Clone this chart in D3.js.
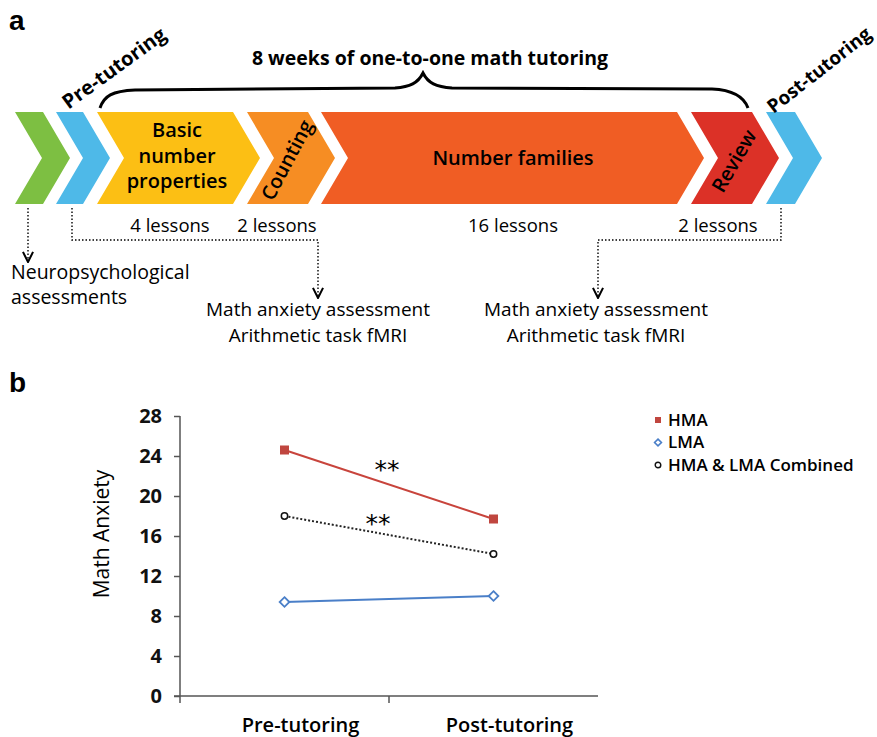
<!DOCTYPE html>
<html>
<head>
<meta charset="utf-8">
<script src="https://cdn.jsdelivr.net/npm/d3@7"></script>
<style>
body { margin: 0; background: #fff; }
svg { font-family: "Open Sans", sans-serif; }
</style>
</head>
<body>
<svg width="877" height="737"></svg>
<script>
// ---- panel a data ----
var phases = ['', '', 'Basic number properties', 'Counting', 'Number families', 'Review', ''];
var phaseColors = ['#7dbf42', '#4eb9e8', '#fcbf14', '#f68d23', '#f05d24', '#dc3127', '#4eb9e8'];
var lessons = ['', '', '4 lessons', '2 lessons', '16 lessons', '2 lessons', ''];
var spanTitle = '8 weeks of one-to-one math tutoring';

// ---- panel b data ----
var sessions = ['Pre-tutoring', 'Post-tutoring'];
var hma = [24.6, 17.7];
var lma = [9.4, 10.0];
var combined = [18.0, 14.2];
var yTicks = [0, 4, 8, 12, 16, 20, 24, 28];
var seriesNames = ['HMA', 'LMA', 'HMA & LMA Combined'];

var svg = d3.select('svg');

// ================= panel a =================
// layout of the chevron band (top edge start/end of each piece)
var chevX = [[15, 43], [56, 83], [97, 233], [247, 308], [321, 677], [691, 752], [766, 795]];
var bandTop = 112, bandBot = 204, bandMid = (bandTop + bandBot) / 2, depth = 27;

svg.append('text').attr('x', 9).attr('y', 30)
	.attr('font-size', 28).attr('font-weight', 700)
	.attr('font-family', 'Liberation Sans, Arial, sans-serif').text('a');

var chev = svg.append('g');
chev.selectAll('path')
	.data(phases)
	.enter()
	.append('path')
		.attr('d', function(d, i){
			var a = chevX[i][0], b = chevX[i][1];
			return 'M' + a + ',' + bandTop + 'L' + b + ',' + bandTop + 'L' + (b + depth) + ',' + bandMid +
				'L' + b + ',' + bandBot + 'L' + a + ',' + bandBot + 'L' + (a + depth) + ',' + bandMid + 'Z';
		})
		.attr('fill', function(d, i){ return phaseColors[i]; });

// labels inside chevrons
var basicLines = phases[2].split(' ');
chev.append('text')
	.attr('x', 177).attr('y', 137)
	.attr('text-anchor', 'middle').attr('font-size', 20).attr('font-weight', 600)
	.selectAll('tspan').data(basicLines).enter().append('tspan')
		.attr('x', 177).attr('dy', function(d, i){ return i ? 25.5 : 0; })
		.text(function(d){ return d; });

chev.append('text')
	.attr('transform', 'translate(287,160) rotate(-62)')
	.attr('text-anchor', 'middle').attr('dy', '0.35em')
	.attr('font-size', 20).attr('font-weight', 600).text(phases[3]);

chev.append('text')
	.attr('x', 513).attr('y', 158).attr('dy', '0.35em')
	.attr('text-anchor', 'middle').attr('font-size', 20).attr('font-weight', 600).text(phases[4]);

chev.append('text')
	.attr('transform', 'translate(734,161) rotate(-60)')
	.attr('text-anchor', 'middle').attr('dy', '0.35em')
	.attr('font-size', 20).attr('font-weight', 600).text(phases[5]);

// rotated stage labels
svg.append('text')
	.attr('transform', 'translate(114,68) rotate(-36)')
	.attr('text-anchor', 'middle').attr('dy', '0.35em')
	.attr('font-size', 20).attr('font-weight', 700).text('Pre-tutoring');
svg.append('text')
	.attr('transform', 'translate(819,70) rotate(-38)')
	.attr('text-anchor', 'middle').attr('dy', '0.35em')
	.attr('font-size', 19).attr('font-weight', 700).text('Post-tutoring');

// brace and its title
svg.append('path')
	.attr('d', 'M100,108 C104,96 112,91 135,90 L395,88 C410,87 418,83 423,73 C428,83 436,87 452,88 L712,89 C734,90 744,97 748,108')
	.attr('fill', 'none').attr('stroke', '#000').attr('stroke-width', 3);
svg.append('text')
	.attr('x', 430).attr('y', 65).attr('text-anchor', 'middle')
	.attr('font-size', 19.5).attr('font-weight', 700).text(spanTitle);

// lesson counts
var lessonX = [0, 0, 170, 277, 513, 718, 0];
svg.append('g').selectAll('text')
	.data(lessons)
	.enter()
	.append('text')
		.attr('x', function(d, i){ return lessonX[i]; })
		.attr('y', 232)
		.attr('text-anchor', 'middle').attr('font-size', 18.5)
		.text(function(d){ return d; });

// dotted arrows
var defs = svg.append('defs');
defs.append('marker').attr('id', 'arr')
	.attr('viewBox', '0 0 10 10').attr('refX', 9).attr('refY', 5)
	.attr('markerWidth', 9).attr('markerHeight', 9).attr('orient', 'auto')
	.append('path').attr('d', 'M1,1 L9,5 L1,9').attr('fill', 'none').attr('stroke', '#000').attr('stroke-width', 1.6);

var flows = [
	[[28, 208], [28, 262]],
	[[72, 208], [72, 240], [318, 240], [318, 298]],
	[[781, 208], [781, 240], [598, 240], [598, 298]]
];
svg.append('g').selectAll('path')
	.data(flows)
	.enter()
	.append('path')
		.attr('d', d3.line())
		.attr('fill', 'none').attr('stroke', '#000').attr('stroke-width', 1.4)
		.attr('stroke-dasharray', '1.5,2')
		.attr('marker-end', 'url(#arr)');

// assessment notes
var neuro = ['Neuropsychological', 'assessments'];
var mathAssess = ['Math anxiety assessment', 'Arithmetic task fMRI'];
svg.append('text').attr('font-size', 19.5)
	.selectAll('tspan').data(neuro).enter().append('tspan')
		.attr('x', 11).attr('y', function(d, i){ return 279 + i * 25; })
		.text(function(d){ return d; });
[318, 596].forEach(function(cx){
	svg.append('text').attr('font-size', 19).attr('text-anchor', 'middle')
		.selectAll('tspan').data(mathAssess).enter().append('tspan')
			.attr('x', cx).attr('y', function(d, i){ return 316 + i * 25.5; })
			.text(function(d){ return d; });
});

// ================= panel b =================
svg.append('text').attr('x', 9).attr('y', 392)
	.attr('font-size', 28).attr('font-weight', 700)
	.attr('font-family', 'Liberation Sans, Arial, sans-serif').text('b');

var x = d3.scaleBand().domain(sessions).range([180, 598]);
var y = d3.scaleLinear().domain([0, 28]).range([696, 416]);

var yAxis = svg.append('g').attr('transform', 'translate(180,0)')
	.call(d3.axisLeft(y).tickValues(yTicks).tickSize(6).tickPadding(12));
yAxis.select('.domain').attr('d', 'M0,' + y(28) + 'V' + (y(0) + 7));
yAxis.selectAll('line').attr('stroke', '#555').attr('stroke-width', 1.5);
yAxis.select('.domain').attr('stroke', '#555').attr('stroke-width', 1.5);
yAxis.selectAll('text').attr('font-size', 20).attr('font-weight', 700)
	.attr('font-family', 'Open Sans, sans-serif').attr('fill', '#111');

var xAxis = svg.append('g').attr('transform', 'translate(0,' + y(0) + ')');
xAxis.append('line').attr('x1', 174).attr('x2', x.range()[1])
	.attr('stroke', '#555').attr('stroke-width', 1.5);
xAxis.append('line').attr('x1', x(sessions[1])).attr('x2', x(sessions[1]))
	.attr('y1', 0).attr('y2', 7).attr('stroke', '#555').attr('stroke-width', 1.5);
xAxis.selectAll('text.cat')
	.data(sessions)
	.enter()
	.append('text')
		.attr('class', 'cat')
		.attr('x', function(d){ return x(d) + x.bandwidth() / 2 + 16; })
		.attr('y', 36)
		.attr('text-anchor', 'middle').attr('font-size', 20).attr('font-weight', 600)
		.text(function(d){ return d; });

svg.append('text')
	.attr('transform', 'translate(109,534) rotate(-90)')
	.attr('text-anchor', 'middle').attr('font-size', 21).attr('font-weight', 500).text('Math Anxiety');

var cx = function(d, i){ return x(sessions[i]) + x.bandwidth() / 2; };
var line = d3.line().x(cx).y(function(d){ return y(d); });

svg.append('path').attr('d', line(hma)).attr('fill', 'none')
	.attr('stroke', '#c8443c').attr('stroke-width', 2);
svg.append('path').attr('d', line(lma)).attr('fill', 'none')
	.attr('stroke', '#4a7fc8').attr('stroke-width', 2);
svg.append('path').attr('d', line(combined)).attr('fill', 'none')
	.attr('stroke', '#222').attr('stroke-width', 2).attr('stroke-dasharray', '2,2');

svg.append('g').selectAll('rect')
	.data(hma).enter().append('rect')
		.attr('x', function(d, i){ return cx(d, i) - 4.5; })
		.attr('y', function(d){ return y(d) - 4.5; })
		.attr('width', 9).attr('height', 9).attr('fill', '#c0463f');
svg.append('g').selectAll('path')
	.data(lma).enter().append('path')
		.attr('d', d3.symbol(d3.symbolDiamond2, 60))
		.attr('transform', function(d, i){ return 'translate(' + cx(d, i) + ',' + y(d) + ')'; })
		.attr('fill', '#fff').attr('stroke', '#4a7fc8').attr('stroke-width', 1.8);
svg.append('g').selectAll('circle')
	.data(combined).enter().append('circle')
		.attr('cx', cx).attr('cy', function(d){ return y(d); })
		.attr('r', 3.2).attr('fill', '#fff').attr('stroke', '#111').attr('stroke-width', 1.5);

// significance stars
svg.append('text').attr('x', 387).attr('y', 478).attr('text-anchor', 'middle')
	.attr('font-size', 25).attr('font-family', 'DejaVu Sans, sans-serif').text('**');
svg.append('text').attr('x', 378).attr('y', 532).attr('text-anchor', 'middle')
	.attr('font-size', 25).attr('font-family', 'DejaVu Sans, sans-serif').text('**');

// legend
var leg = svg.append('g').attr('transform', 'translate(658,420)');
var legItem = leg.selectAll('g')
	.data(seriesNames).enter().append('g')
		.attr('transform', function(d, i){ return 'translate(0,' + i * 22.5 + ')'; });
legItem.append('text').attr('x', 10).attr('dy', '0.35em')
	.attr('font-size', 17).attr('font-weight', 600)
	.text(function(d){ return d; });
leg.append('rect').attr('x', -3).attr('y', -3).attr('width', 6).attr('height', 6).attr('fill', '#c0463f');
leg.append('path').attr('d', d3.symbol(d3.symbolDiamond2, 30)).attr('transform', 'translate(0,22.5)')
	.attr('fill', '#fff').attr('stroke', '#4a7fc8').attr('stroke-width', 1.6);
leg.append('circle').attr('cy', 45).attr('r', 2.8)
	.attr('fill', '#fff').attr('stroke', '#111').attr('stroke-width', 1.4);
</script>
</body>
</html>
